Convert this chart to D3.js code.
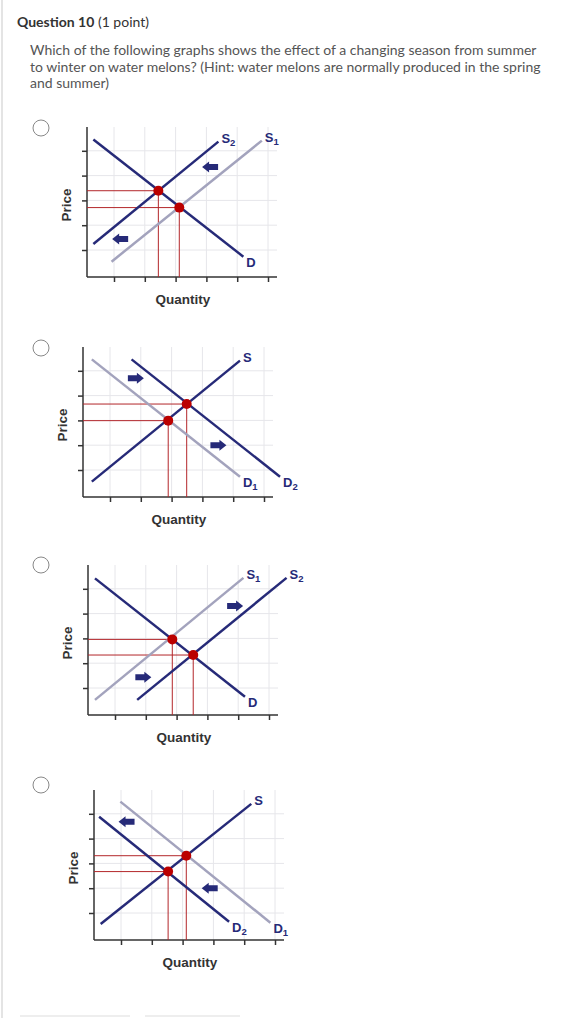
<!DOCTYPE html>
<html>
<head>
<meta charset="utf-8">
<script src="https://cdn.jsdelivr.net/npm/d3@7"></script>
<style>
  body { margin: 0; background: #fff; font-family: Lato, "Open Sans", sans-serif; }
</style>
</head>
<body>
<svg id="page" width="578" height="1018"></svg>
<script>
// tick values used on both axes
var tickValues = [ 1, 2, 3, 4, 5, 6 ];

// curves: [name, x0, y0, x1, y1, shifted?, label, sub]
var curves1 = [
  [ 'D', 0.33, 5.46, 5.2, 0.73, false, 'D', '' ],
  [ 'S1', 0.92, 0.53, 5.8, 5.41, true, 'S', '1' ],
  [ 'S2', 0.33, 1.24, 4.39, 5.37, false, 'S', '2' ]
];
var curves2 = [
  [ 'D1', 0.41, 5.46, 5.22, 0.73, true, 'D', '1' ],
  [ 'D2', 1.70, 5.46, 6.52, 0.73, false, 'D', '2' ],
  [ 'S', 0.41, 0.53, 5.22, 5.41, false, 'S', '' ]
];
var curves3 = [
  [ 'D', 0.35, 5.42, 5.22, 0.65, false, 'D', '' ],
  [ 'S1', 0.35, 0.52, 5.17, 5.44, true, 'S', '1' ],
  [ 'S2', 1.72, 0.52, 6.57, 5.44, false, 'S', '2' ]
];
var curves4 = [
  [ 'D1', 0.98, 5.49, 5.85, 0.61, true, 'D', '1' ],
  [ 'D2', 0.29, 4.88, 4.51, 0.65, false, 'D', '2' ],
  [ 'S', 0.34, 0.56, 5.23, 5.40, false, 'S', '' ]
];

// equilibrium points [quantity, price]
var equil1 = [ [ 2.44, 3.39 ], [ 3.12, 2.71 ] ];
var equil2 = [ [ 2.89, 2.99 ], [ 3.49, 3.66 ] ];
var equil3 = [ [ 2.86, 2.96 ], [ 3.54, 2.33 ] ];
var equil4 = [ [ 2.53, 2.67 ], [ 3.12, 3.31 ] ];

// shift arrows [x, y, direction]
var arrows1 = [ [ 4.12, 4.35, -1 ], [ 1.2, 1.44, -1 ] ];
var arrows2 = [ [ 1.84, 4.70, 1 ], [ 4.52, 2.0, 1 ] ];
var arrows3 = [ [ 4.9, 4.31, 1 ], [ 1.92, 1.43, 1 ] ];
var arrows4 = [ [ 1.18, 4.68, -1 ], [ 3.88, 2.0, -1 ] ];

var questionLines = [
  'Which of the following graphs shows the effect of a changing season from summer',
  'to winter on water melons?  (Hint: water melons are normally produced in the spring',
  'and summer)'
];

var panels = [
  { ox: 87, oy: 277, radioY: 128, curves: curves1, equil: equil1, arrows: arrows1 },
  { ox: 83, oy: 497, radioY: 348, curves: curves2, equil: equil2, arrows: arrows2 },
  { ox: 88, oy: 715, radioY: 565, curves: curves3, equil: equil3, arrows: arrows3 },
  { ox: 94, oy: 940, radioY: 785, curves: curves4, equil: equil4, arrows: arrows4 }
];

var navy = '#262a78', grey = '#a3a3bd', red = '#b3262a';
var svg = d3.select( '#page' );

// left border of the question box
svg.append( 'line' ).attr( 'x1', 2 ).attr( 'x2', 2 ).attr( 'y1', 0 ).attr( 'y2', 1018 )
  .attr( 'stroke', '#e4e4e4' ).attr( 'stroke-width', 2 );

var title = svg.append( 'text' ).attr( 'x', 17 ).attr( 'y', 27 )
  .attr( 'font-size', 14 ).attr( 'fill', '#333' );
title.append( 'tspan' ).attr( 'font-weight', 'bold' ).text( 'Question 10' );
title.append( 'tspan' ).text( ' (1 point)' );

svg.selectAll( 'text.q' ).data( questionLines ).join( 'text' )
  .attr( 'class', 'q' ).attr( 'x', 30 ).attr( 'y', ( d, i ) => 55 + i * 16.5 )
  .attr( 'font-size', 14 ).attr( 'fill', '#555' ).text( d => d );

var x = d3.scaleLinear().domain( [ 1, 6 ] ).range( [ 27, 181 ] );
var y = d3.scaleLinear().domain( [ 1, 6 ] ).range( [ -27, -151 ] );

panels.forEach( function( p ) {

  svg.append( 'circle' ).attr( 'cx', 41 ).attr( 'cy', p.radioY ).attr( 'r', 8 )
    .attr( 'fill', '#fff' ).attr( 'stroke', '#888' );

  var g = svg.append( 'g' ).attr( 'transform', 'translate(' + p.ox + ',' + p.oy + ')' );

  // grid
  g.selectAll( 'line.gx' ).data( tickValues ).join( 'line' )
    .attr( 'x1', d => x( d ) ).attr( 'x2', d => x( d ) ).attr( 'y1', 0 ).attr( 'y2', -150 )
    .attr( 'stroke', '#e6e6ea' );
  g.selectAll( 'line.gy' ).data( tickValues.slice( 0, 5 ) ).join( 'line' )
    .attr( 'x1', 0 ).attr( 'x2', 190 ).attr( 'y1', d => y( d ) ).attr( 'y2', d => y( d ) )
    .attr( 'stroke', '#e6e6ea' );

  // axes
  var ax = g.append( 'g' ).call( d3.axisBottom( x ).tickValues( tickValues ).tickSize( 5 ).tickFormat( '' ) );
  ax.select( '.domain' ).attr( 'd', 'M0,0H190' );
  var ay = g.append( 'g' ).call( d3.axisLeft( y ).tickValues( tickValues.slice( 0, 5 ) ).tickSize( 5 ).tickFormat( '' ) );
  ay.select( '.domain' ).attr( 'd', 'M0,0V-150' );
  g.selectAll( '.domain, .tick line' ).attr( 'stroke', '#333' ).attr( 'stroke-width', 1.5 );

  g.append( 'text' ).attr( 'transform', 'translate(-16,-72) rotate(-90)' )
    .attr( 'text-anchor', 'middle' ).attr( 'font-size', 13.5 ).attr( 'font-weight', 'bold' )
    .attr( 'font-family', 'Liberation Sans, Arial, sans-serif' ).attr( 'fill', '#333' ).text( 'Price' );
  g.append( 'text' ).attr( 'x', 96 ).attr( 'y', 27 )
    .attr( 'text-anchor', 'middle' ).attr( 'font-size', 13.5 ).attr( 'font-weight', 'bold' )
    .attr( 'font-family', 'Liberation Sans, Arial, sans-serif' ).attr( 'fill', '#333' ).text( 'Quantity' );

  // red guide lines
  p.equil.forEach( function( e ) {
    g.append( 'path' ).attr( 'd', 'M0,' + y( e[ 1 ] ) + 'H' + x( e[ 0 ] ) + 'V0' )
      .attr( 'fill', 'none' ).attr( 'stroke', red ).attr( 'stroke-width', 1 );
  } );

  // curves (shifted-from curve in grey, drawn first)
  p.curves.slice().sort( ( a, b ) => b[ 5 ] - a[ 5 ] ).forEach( function( c ) {
    g.append( 'line' ).attr( 'x1', x( c[ 1 ] ) ).attr( 'y1', y( c[ 2 ] ) )
      .attr( 'x2', x( c[ 3 ] ) ).attr( 'y2', y( c[ 4 ] ) )
      .attr( 'stroke', c[ 5 ] ? grey : navy ).attr( 'stroke-width', 2.5 );
    var isDemand = c[ 2 ] > c[ 4 ];
    var t = g.append( 'text' ).attr( 'x', x( c[ 3 ] ) + 3 ).attr( 'y', y( c[ 4 ] ) + ( isDemand ? 10 : 1 ) )
      .attr( 'font-size', 13 ).attr( 'font-weight', 'bold' ).attr( 'fill', navy )
      .attr( 'font-family', 'Liberation Sans, Arial, sans-serif' ).text( c[ 6 ] );
    if( c[ 7 ] ) t.append( 'tspan' ).attr( 'font-size', 9.5 ).attr( 'dy', 3 ).text( c[ 7 ] );
  } );

  g.selectAll( 'circle.eq' ).data( p.equil ).join( 'circle' )
    .attr( 'cx', d => x( d[ 0 ] ) ).attr( 'cy', d => y( d[ 1 ] ) ).attr( 'r', 5 ).attr( 'fill', '#b00' );

  g.selectAll( 'path.arrow' ).data( p.arrows ).join( 'path' )
    .attr( 'transform', d => 'translate(' + x( d[ 0 ] ) + ',' + y( d[ 1 ] ) + ') scale(' + d[ 2 ] + ',1)' )
    .attr( 'd', 'M-8,-3H1V-5.5L8,0L1,5.5V3H-8Z' ).attr( 'fill', navy );

} );

// faint buttons at bottom edge
svg.append( 'line' ).attr( 'x1', 20 ).attr( 'x2', 130 ).attr( 'y1', 1016 ).attr( 'y2', 1016 ).attr( 'stroke', '#ddd' );
svg.append( 'line' ).attr( 'x1', 145 ).attr( 'x2', 240 ).attr( 'y1', 1016 ).attr( 'y2', 1016 ).attr( 'stroke', '#ddd' );
</script>
</body>
</html>
